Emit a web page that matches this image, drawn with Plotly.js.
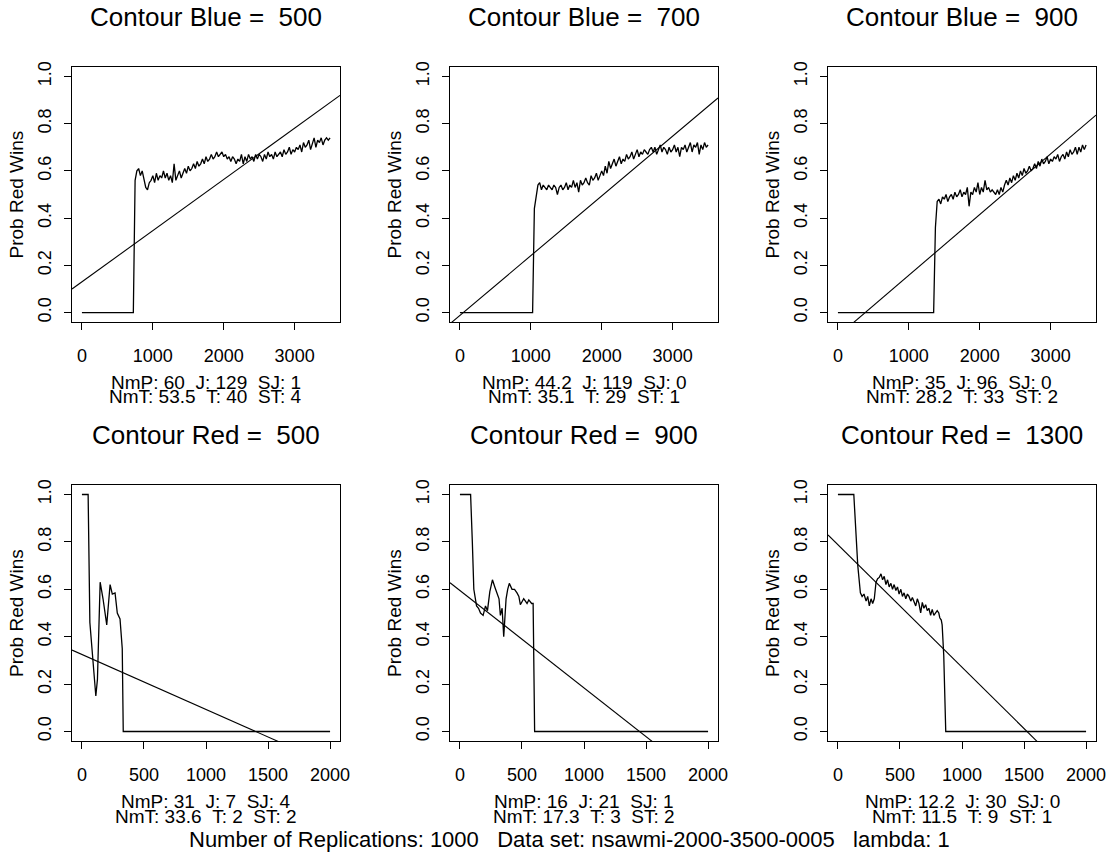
<!DOCTYPE html>
<html>
<head>
<meta charset="utf-8">
<script src="https://cdn.plot.ly/plotly-3.0.1.min.js"></script>
<style>html,body{margin:0;padding:0;background:#fff;}#chart{width:1112px;height:854px;}</style>
</head>
<body>
<div id="chart"></div>
<script>
// ---------------- DATA ----------------
const blueContours = [500, 700, 900];
const redContours = [500, 900, 1300];
const blueTicks = [0, 1000, 2000, 3000];
const redTicks = [0, 500, 1000, 1500, 2000];
const yTicks = [0, 0.2, 0.4, 0.6, 0.8, 1.0];
const blueStep = 25; // sampling step of the noisy part (replication sizes)

// Contour Blue = 500
const b500FlatX = [0, 725];
const b500FlatY = [0, 0];
const b500Start = 750;
const b500Y = [0.56,0.60,0.61,0.58,0.60,0.56,0.53,0.52,0.55,0.56,
  0.58,0.55,0.59,0.56,0.58,0.57,0.60,0.57,0.59,0.56,
  0.58,0.55,0.63,0.56,0.58,0.60,0.57,0.59,0.61,0.59,
  0.62,0.60,0.61,0.63,0.61,0.64,0.62,0.63,0.65,0.63,
  0.66,0.64,0.65,0.67,0.65,0.66,0.68,0.66,0.67,0.68,
  0.66,0.67,0.65,0.66,0.64,0.66,0.65,0.63,0.65,0.64,
  0.67,0.63,0.66,0.64,0.67,0.65,0.66,0.64,0.67,0.65,
  0.67,0.66,0.64,0.67,0.65,0.68,0.66,0.67,0.65,0.68,
  0.66,0.67,0.68,0.66,0.69,0.67,0.68,0.70,0.67,0.69,
  0.68,0.70,0.69,0.71,0.68,0.72,0.70,0.71,0.73,0.69,
  0.72,0.74,0.70,0.73,0.72,0.74,0.71,0.73,0.74,0.73,0.74];

// Contour Blue = 700
const b700FlatX = [0, 1025];
const b700FlatY = [0, 0];
const b700Start = 1050;
const b700Y = [0.44,0.50,0.54,0.55,0.52,0.54,0.53,0.52,0.54,0.53,
  0.52,0.54,0.53,0.50,0.53,0.54,0.52,0.53,0.55,0.52,
  0.54,0.53,0.56,0.53,0.55,0.51,0.56,0.54,0.55,0.57,
  0.55,0.54,0.58,0.56,0.57,0.59,0.56,0.58,0.60,0.58,
  0.62,0.59,0.64,0.61,0.63,0.65,0.62,0.64,0.66,0.63,
  0.65,0.64,0.67,0.65,0.66,0.68,0.65,0.67,0.69,0.66,
  0.68,0.67,0.69,0.68,0.67,0.69,0.70,0.68,0.70,0.67,
  0.69,0.71,0.68,0.70,0.69,0.67,0.70,0.68,0.69,0.71,
  0.68,0.70,0.66,0.70,0.69,0.71,0.68,0.70,0.72,0.68,
  0.71,0.70,0.72,0.67,0.71,0.69,0.72,0.70,0.71];

// Contour Blue = 900
const b900FlatX = [0, 1350];
const b900FlatY = [0, 0];
const b900Start = 1375;
const b900Y = [0.36,0.47,0.48,0.46,0.49,0.48,0.50,0.47,0.49,0.50,
  0.48,0.51,0.49,0.50,0.52,0.49,0.51,0.50,0.53,0.45,
  0.51,0.50,0.53,0.51,0.55,0.50,0.53,0.51,0.56,0.52,
  0.53,0.51,0.52,0.51,0.50,0.52,0.50,0.53,0.51,0.54,
  0.56,0.54,0.57,0.55,0.58,0.56,0.59,0.57,0.60,0.58,
  0.61,0.59,0.60,0.62,0.60,0.61,0.63,0.61,0.64,0.62,
  0.65,0.63,0.64,0.66,0.63,0.65,0.64,0.66,0.65,0.67,
  0.64,0.66,0.67,0.65,0.68,0.66,0.69,0.67,0.68,0.70,
  0.67,0.70,0.68,0.71,0.69,0.71];

// Contour Red = 500
const r500X = [0, 50, 64, 88, 112, 125, 147, 170, 200, 227, 245, 267, 285, 307, 325, 333, 2000];
const r500Y = [1, 1, 0.46, 0.30, 0.15, 0.22, 0.63, 0.56, 0.45, 0.62, 0.58, 0.585, 0.50, 0.475, 0.35, 0, 0];

// Contour Red = 900
const r900X = [0, 86, 100, 112, 134, 150, 166, 187, 206, 222, 241, 262, 281, 300, 315, 326, 340, 353, 362, 372,
  385, 398, 420, 440, 460, 475, 487, 500, 514, 528, 541, 555, 567, 578, 590, 602, 2000];
const r900Y = [1, 1, 0.80, 0.60, 0.53, 0.52, 0.50, 0.49, 0.53, 0.51, 0.59, 0.64, 0.61, 0.58, 0.56, 0.49, 0.52, 0.40, 0.48, 0.56,
  0.60, 0.625, 0.60, 0.60, 0.585, 0.57, 0.535, 0.55, 0.56, 0.55, 0.54, 0.555, 0.545, 0.54, 0.54, 0, 0];

// Contour Red = 1300
const r1300X = [0, 128, 160, 181, 195, 210, 227, 240, 253, 267, 280, 293, 307, 320, 333, 347, 360, 373, 387, 400,
  413, 427, 440, 453, 467, 480, 493, 507, 520, 533, 547, 560, 573, 587, 600, 613, 627, 640, 653, 667,
  680, 693, 707, 720, 733, 747, 760, 773, 787, 800, 813, 821, 833, 840, 853, 869, 2000];
const r1300Y = [1, 1, 0.70, 0.585, 0.57, 0.58, 0.55, 0.57, 0.53, 0.56, 0.54, 0.56, 0.63, 0.645, 0.65, 0.665, 0.64, 0.655, 0.62, 0.64,
  0.61, 0.625, 0.60, 0.62, 0.595, 0.61, 0.58, 0.60, 0.57, 0.585, 0.56, 0.58, 0.57, 0.55, 0.565, 0.55, 0.53, 0.56, 0.54, 0.50,
  0.545, 0.52, 0.535, 0.51, 0.52, 0.49, 0.515, 0.49, 0.50, 0.51, 0.50, 0.48, 0.47, 0.45, 0.32, 0, 0];

// fitted straight lines (intercept, slope)
const blueIntercept = [0.13, -0.012, -0.099];
const blueSlope = [0.000217, 0.000253, 0.000257];
const redIntercept = [0.325, 0.595, 0.788];
const redSlope = [-0.000232, -0.000411, -0.000517];

// texts
const yLabel = "Prob Red Wins";
const blueStats1 = ["NmP: 60  J: 129  SJ: 1", "NmP: 44.2  J: 119  SJ: 0", "NmP: 35  J: 96  SJ: 0"];
const blueStats2 = ["NmT: 53.5  T: 40  ST: 4", "NmT: 35.1  T: 29  ST: 1", "NmT: 28.2  T: 33  ST: 2"];
const redStats1 = ["NmP: 31  J: 7  SJ: 4", "NmP: 16  J: 21  SJ: 1", "NmP: 12.2  J: 30  SJ: 0"];
const redStats2 = ["NmT: 33.6  T: 2  ST: 2", "NmT: 17.3  T: 3  ST: 2", "NmT: 11.5  T: 9  ST: 1"];
const footer = "Number of Replications: 1000   Data set: nsawmi-2000-3500-0005   lambda: 1";

// ---------------- BUILD ----------------
const W = 1112, H = 854;
const FONT = "Liberation Sans, Arial, Helvetica, sans-serif";
const nb = s => s.replace(/ /g, "\u00a0");

function gridX(start, n) { return Array.from({length: n}, (_, i) => start + i * blueStep); }

const blueCurves = [
  {x: b500FlatX.concat(gridX(b500Start, b500Y.length)), y: b500FlatY.concat(b500Y)},
  {x: b700FlatX.concat(gridX(b700Start, b700Y.length)), y: b700FlatY.concat(b700Y)},
  {x: b900FlatX.concat(gridX(b900Start, b900Y.length)), y: b900FlatY.concat(b900Y)}
];
const redCurves = [
  {x: r500X, y: r500Y},
  {x: r900X, y: r900Y},
  {x: r1300X, y: r1300Y}
];

const blueRange = [-140, 3640];
const redRange = [-80, 2080];
const yRange = [-0.04, 1.04];

const colPx = [[72, 340], [450, 718], [828, 1096]];
const rowPx = [[67, 322], [485, 741]];

const traces = [];
const layout = {
  width: W, height: H,
  margin: {l: 0, r: 0, t: 0, b: 0},
  paper_bgcolor: "#fff", plot_bgcolor: "#fff",
  showlegend: false,
  font: {family: FONT, color: "#000"},
  annotations: []
};

function axisBase() {
  return {
    showline: true, mirror: true, linecolor: "#000", linewidth: 1,
    ticks: "outside", ticklen: 7, tickwidth: 1, tickcolor: "#000",
    showgrid: false, zeroline: false, fixedrange: true,
    tickfont: {family: FONT, size: 18, color: "#000"}
  };
}

function addPanel(idx, row, col, curve, ticks, range, a, b, title, s1, s2) {
  const n = idx === 1 ? "" : String(idx);
  const xa = "xaxis" + n, ya = "yaxis" + n;
  const [x0, x1] = colPx[col];
  const [y0, y1] = rowPx[row];
  layout[xa] = Object.assign(axisBase(), {
    domain: [x0 / W, x1 / W], range: range, anchor: "y" + n,
    tickvals: ticks, ticktext: ticks.map(String), ticklabelstandoff: 10
  });
  layout[ya] = Object.assign(axisBase(), {
    domain: [1 - y1 / H, 1 - y0 / H], range: yRange, anchor: "x" + n,
    tickvals: yTicks, ticktext: yTicks.map(v => v.toFixed(1)), tickangle: -90, ticklabelstandoff: 6
  });
  traces.push({
    type: "scatter", mode: "lines", x: curve.x, y: curve.y,
    xaxis: "x" + n, yaxis: "y" + n, line: {color: "#000", width: 1.3}, hoverinfo: "skip"
  });
  const lx = [range[0], range[1]];
  traces.push({
    type: "scatter", mode: "lines", x: lx, y: lx.map(v => a + b * v),
    xaxis: "x" + n, yaxis: "y" + n, line: {color: "#000", width: 1.1}, hoverinfo: "skip"
  });
  const cx = (x0 + x1) / 2 / W;
  layout.annotations.push({
    text: nb(title), xref: "paper", yref: "paper", x: cx, y: 1 - (y0 - 50) / H,
    xanchor: "center", yanchor: "middle", showarrow: false, font: {size: 26, family: FONT, color: "#000"}
  });
  layout.annotations.push({
    text: yLabel, textangle: -90, xref: "paper", yref: "paper", x: (x0 - 56) / W, y: 1 - ((y0 + y1) / 2) / H,
    xanchor: "center", yanchor: "middle", showarrow: false, font: {size: 19, family: FONT, color: "#000"}
  });
  layout.annotations.push({
    text: nb(s1), xref: "paper", yref: "paper", x: cx, y: 1 - (y1 + 60) / H,
    xanchor: "center", yanchor: "middle", showarrow: false, font: {size: 19, family: FONT, color: "#000"}
  });
  layout.annotations.push({
    text: nb(s2), xref: "paper", yref: "paper", x: cx, y: 1 - (y1 + 75) / H,
    xanchor: "center", yanchor: "middle", showarrow: false, font: {size: 19, family: FONT, color: "#000"}
  });
}

for (let i = 0; i < 3; i++) {
  addPanel(i + 1, 0, i, blueCurves[i], blueTicks, blueRange, blueIntercept[i], blueSlope[i],
    "Contour Blue =  " + blueContours[i], blueStats1[i], blueStats2[i]);
}
for (let i = 0; i < 3; i++) {
  addPanel(i + 4, 1, i, redCurves[i], redTicks, redRange, redIntercept[i], redSlope[i],
    "Contour Red =  " + redContours[i], redStats1[i], redStats2[i]);
}
layout.annotations.push({
  text: nb(footer), xref: "paper", yref: "paper", x: 569 / W, y: 1 - 839 / H,
  xanchor: "center", yanchor: "middle", showarrow: false, font: {size: 22, family: FONT, color: "#000"}
});

Plotly.newPlot("chart", traces, layout, {staticPlot: true, displayModeBar: false});
</script>
</body>
</html>
